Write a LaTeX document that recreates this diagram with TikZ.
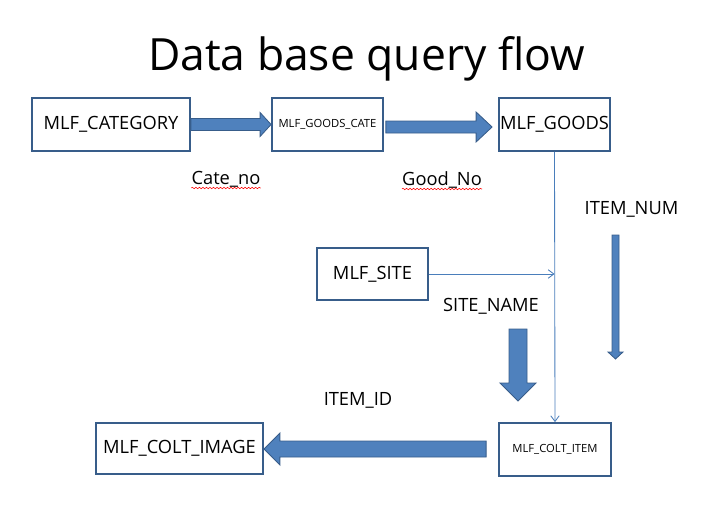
\documentclass[tikz,border=0pt]{standalone}
\usepackage{fontspec}
\setmainfont{Open Sans}
\usetikzlibrary{arrows.meta, calc, decorations.pathmorphing}
\definecolor{mBoxBlue}{HTML}{385D8A}
\definecolor{mFillBlue}{HTML}{4F81BD}
\definecolor{mLineBlue}{HTML}{4A7EBB}

\begin{document}
\begin{tikzpicture}[x=0.25mm, y=-0.25mm,
    tbl/.style={draw=mBoxBlue, line width=1.3pt, fill=white, inner sep=0pt, font=\fontsize{13}{16}\selectfont},
    tblsmall/.style={tbl, font=\fontsize{8}{10}\selectfont},
    fat/.style={fill=mFillBlue, draw=mBoxBlue, line width=0.6pt, line join=miter},
    thin/.style={draw=mLineBlue, line width=0.6pt, -{Straight Barb[length=4pt, width=6pt]}},
    lbl/.style={anchor=base, inner sep=0pt, font=\fontsize{13}{16}\selectfont},
    typo/.style={draw=red, line width=0.4pt, decorate, decoration={snake, amplitude=0.5pt, segment length=2.5pt}}]

    \useasboundingbox (0,0) rectangle (718,517);

    \node[lbl, font=\fontsize{31.6}{38}\selectfont] (title) at (366.5,70) {Data base query flow};

    % tables
    \node[tbl, minimum width=39.5mm, minimum height=13.25mm] (cat) at (111,124.5) {MLF\_CATEGORY};
    \node[tblsmall, minimum width=27.75mm, minimum height=13.25mm] (gcate) at (327.5,124.5) {MLF\_GOODS\_CATE};
    \node[tbl, minimum width=27.75mm, minimum height=13.25mm] (goods) at (554.5,124.5) {MLF\_GOODS};
    \node[tbl, minimum width=27.75mm, minimum height=13mm] (site) at (372.5,274) {MLF\_SITE};
    \node[tblsmall, minimum width=28mm, minimum height=13.25mm] (item) at (555,449.5) {MLF\_COLT\_ITEM};
    \node[tbl, minimum width=41.75mm, minimum height=12.75mm] (image) at (179.5,448.5) {MLF\_COLT\_IMAGE};

    % key labels
    \node[lbl] (cateno) at (226,184) {Cate\_no};
    \node[lbl] (goodno) at (442,185) {Good\_No};
    \node[lbl] (itemnum) at (631.5,214) {ITEM\_NUM};
    \node[lbl] (sitename) at (491,311) {SITE\_NAME};
    \node[lbl] (itemid) at (358,405.5) {ITEM\_ID};
    \draw[typo] ($(cateno.base west)+(0,4)$) -- ($(cateno.base east)+(0,4)$);
    \draw[typo] ($(goodno.base west)+(0,4)$) -- ($(goodno.base east)+(0,4)$);

    % thin connectors
    \draw[thin] (goods.south) -- (item.north);
    \draw[thin] (site.east) -- (site.east -| goods.south);

    % block arrows
    \filldraw[fat] ($(cat.east)+(0,-6)$) -- ($(gcate.west)+(-11,-6)$) -- ($(gcate.west)+(-11,-12)$) -- (gcate.west) -- ($(gcate.west)+(-11,12)$) -- ($(gcate.west)+(-11,6)$) -- ($(cat.east)+(0,6)$) -- cycle;

    \coordinate (a2s) at ($(gcate.east)+(2,2.5)$);
    \coordinate (a2t) at ($(goods.west)+(-6,2.5)$);
    \filldraw[fat] ($(a2s)+(0,-6)$) -- ($(a2t)+(-16,-6)$) -- ($(a2t)+(-16,-15)$) -- (a2t) -- ($(a2t)+(-16,15)$) -- ($(a2t)+(-16,6)$) -- ($(a2s)+(0,6)$) -- cycle;

    \coordinate (a5s) at ($(item.west)+(-12,-0.5)$);
    \coordinate (a5t) at (image.east |- a5s);
    \filldraw[fat] ($(a5s)+(0,-8)$) -- ($(a5t)+(16,-8)$) -- ($(a5t)+(16,-16)$) -- (a5t) -- ($(a5t)+(16,16)$) -- ($(a5t)+(16,8)$) -- ($(a5s)+(0,8)$) -- cycle;

    \filldraw[fat] (612,235) -- (612,352) -- (608,352) -- (615.5,359) -- (623,352) -- (619,352) -- (619,235) -- cycle;
    \filldraw[fat] (509,329) -- (509,383) -- (500,383) -- (518,401) -- (536,383) -- (527,383) -- (527,329) -- cycle;
\end{tikzpicture}
\end{document}
